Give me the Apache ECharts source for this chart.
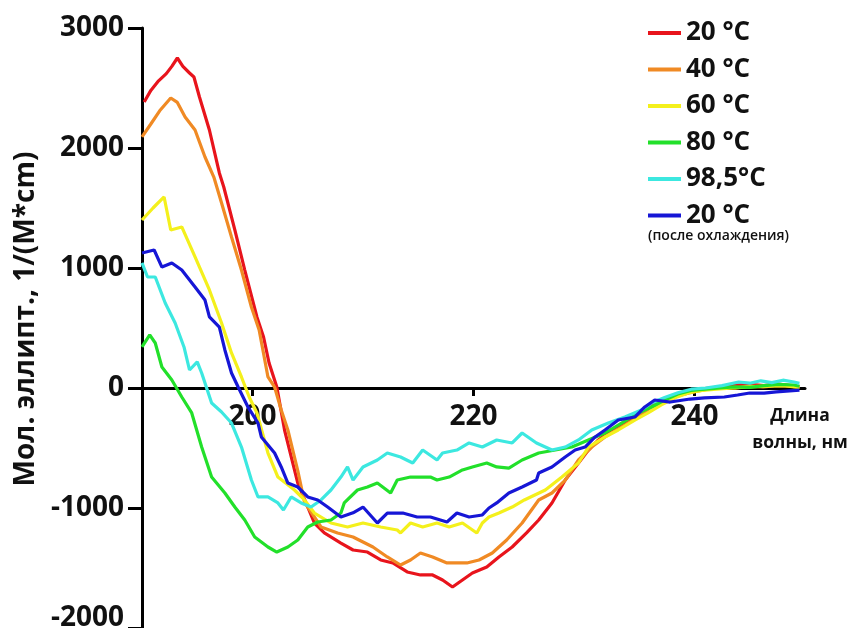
<!DOCTYPE html>
<html>
<head>
<meta charset="utf-8">
<script src="https://cdn.jsdelivr.net/npm/echarts@6/dist/echarts.min.js"></script>
<style>html,body{margin:0;padding:0;background:#fff}#c{width:850px;height:628px}</style>
</head>
<body>
<div id="c"></div>
<script>
var seriesNames = ['20 °C', '40 °C', '60 °C', '80 °C', '98,5°C', '20 °C '];
var seriesColors = ['#e8141c', '#f08a24', '#f4f01c', '#22e02a', '#3ce8e0', '#1616d6'];
var xTicks = [200, 220, 240];
var yTicks = [-2000, -1000, 0, 1000, 2000, 3000];

var red = [[190.2,2383],[190.8,2480],[191.5,2560],[192.2,2620],[192.7,2680],[193.2,2750],[193.7,2680],[194.3,2625],[194.7,2592],[195.2,2425],[196.1,2150],[197.0,1792],[197.4,1675],[198.4,1317],[199.3,983],[200.4,592],[201.0,425],[201.5,208],[202.2,8],[202.9,-350],[204.1,-792],[205.6,-1125],[206.5,-1208],[208.0,-1292],[209.1,-1350],[210.4,-1367],[211.6,-1433],[212.7,-1458],[214.0,-1533],[215.2,-1558],[216.3,-1558],[217.2,-1600],[218.1,-1658],[219.0,-1600],[219.9,-1542],[221.2,-1492],[222.3,-1408],[223.5,-1325],[224.8,-1208],[225.9,-1100],[227.1,-958],[228.3,-767],[229.5,-625],[230.4,-517],[231.3,-433],[232.5,-350],[234.0,-267],[235.5,-183],[236.4,-125],[237.8,-80],[239.0,-40],[240.3,-10],[241.5,0],[242.7,15],[243.9,25],[245.0,30],[246.3,20],[247.4,35],[248.3,25],[249.5,10]];

var orange = [[190.0,2092],[190.8,2200],[191.6,2310],[192.6,2417],[193.2,2380],[193.9,2258],[194.8,2150],[195.7,1925],[196.5,1758],[197.2,1542],[198.1,1258],[199.0,983],[199.9,675],[200.6,483],[201.4,92],[202.0,8],[202.6,-183],[203.2,-350],[204.1,-690],[204.7,-950],[206.2,-1158],[207.7,-1208],[209.1,-1242],[210.9,-1325],[212.2,-1408],[213.4,-1475],[214.3,-1433],[215.2,-1375],[216.3,-1408],[217.6,-1458],[219.4,-1458],[220.5,-1433],[221.7,-1375],[223.0,-1267],[224.4,-1125],[225.9,-933],[227.1,-875],[228.3,-767],[229.5,-600],[230.7,-492],[231.9,-408],[233.4,-325],[234.9,-242],[236.1,-158],[237.5,-100],[238.7,-60],[240.0,-30],[241.2,-10],[242.5,5],[243.7,0],[245.0,15],[246.2,10],[247.5,20],[248.7,15],[249.5,5]];

var yellow = [[190.0,1400],[191.0,1500],[192.0,1592],[192.6,1317],[193.6,1342],[194.8,1092],[196.1,817],[197.2,542],[198.1,292],[199.0,92],[199.7,-75],[200.4,-208],[201.4,-542],[202.3,-742],[203.8,-850],[204.7,-933],[205.6,-1042],[207.1,-1125],[208.6,-1158],[210.0,-1125],[211.6,-1158],[213.1,-1183],[213.4,-1208],[214.3,-1125],[215.4,-1158],[216.7,-1125],[217.8,-1158],[219.0,-1125],[220.3,-1208],[220.8,-1125],[221.4,-1075],[222.3,-1042],[223.5,-992],[224.6,-933],[226.5,-850],[228.0,-742],[229.5,-625],[230.4,-492],[231.9,-408],[233.1,-350],[234.6,-267],[235.8,-208],[237.0,-140],[238.3,-80],[239.5,-40],[240.7,-20],[242.0,-10],[243.5,0],[245.0,10],[246.5,15],[248.0,20],[249.5,5]];

var green = [[190.0,342],[190.7,442],[191.2,375],[191.8,175],[192.7,67],[193.6,-75],[194.5,-208],[195.4,-492],[196.3,-742],[197.5,-875],[198.4,-992],[199.3,-1100],[200.2,-1242],[201.4,-1325],[202.2,-1367],[203.2,-1325],[204.1,-1267],[205.0,-1158],[205.9,-1117],[207.1,-1100],[208.0,-1042],[208.3,-958],[209.5,-850],[210.4,-825],[211.3,-792],[212.5,-875],[213.1,-767],[214.3,-742],[216.1,-742],[216.7,-767],[217.8,-742],[219.0,-683],[219.9,-658],[221.2,-625],[222.1,-658],[223.2,-667],[224.4,-600],[225.9,-542],[227.4,-517],[228.9,-492],[230.4,-433],[231.9,-375],[233.4,-292],[234.9,-208],[236.1,-158],[237.3,-100],[238.5,-50],[239.7,-20],[241.0,-10],[242.3,0],[243.6,10],[245.0,5],[246.3,20],[247.6,30],[249.0,25],[249.5,15]];

var cyan = [[190.0,1042],[190.5,925],[191.2,925],[192.1,708],[193.0,542],[193.8,342],[194.3,150],[195.0,217],[195.4,125],[196.3,-125],[197.2,-200],[198.1,-292],[199.0,-492],[199.9,-767],[200.5,-908],[201.4,-908],[202.3,-958],[202.8,-1017],[203.5,-908],[204.4,-958],[205.3,-992],[206.2,-933],[207.1,-850],[208.0,-742],[208.6,-658],[209.1,-767],[210.0,-658],[211.3,-600],[212.2,-542],[213.4,-575],[214.5,-625],[215.4,-517],[216.7,-600],[217.2,-542],[218.5,-517],[219.6,-458],[220.8,-492],[222.1,-433],[223.5,-458],[224.4,-375],[225.7,-458],[227.1,-517],[228.3,-492],[229.5,-433],[230.7,-350],[232.2,-292],[233.7,-242],[235.2,-183],[236.1,-125],[237.3,-80],[238.5,-40],[239.7,-10],[241.0,0],[242.5,20],[244.0,50],[245.0,40],[246.0,60],[247.0,45],[248.0,65],[249.0,50],[249.5,40]];

var blue = [[190.0,1125],[191.1,1150],[191.8,1008],[192.7,1042],[193.6,983],[194.8,842],[195.7,733],[196.1,592],[197.0,508],[197.5,317],[198.1,125],[198.7,8],[199.6,-160],[200.5,-292],[200.8,-408],[202.0,-542],[202.6,-658],[203.2,-792],[204.1,-825],[205.0,-908],[205.9,-933],[206.8,-992],[208.0,-1075],[209.1,-1040],[210.0,-992],[211.3,-1125],[212.2,-1042],[213.6,-1042],[214.9,-1075],[216.1,-1075],[217.6,-1117],[218.5,-1042],[219.6,-1075],[220.8,-1058],[221.4,-1000],[222.1,-958],[223.2,-875],[224.4,-825],[225.7,-767],[225.9,-708],[227.1,-658],[228.3,-575],[229.2,-517],[230.1,-492],[231.0,-408],[231.9,-350],[233.1,-267],[234.6,-242],[235.5,-158],[236.4,-100],[237.8,-117],[239.6,-92],[240.9,-83],[242.7,-75],[243.9,-58],[245.0,-42],[246.3,-42],[247.4,-33],[249.5,-17]];

var seriesData = [red, orange, yellow, green, cyan, blue];

var FONT = 'Open Sans';
var chart = echarts.init(document.getElementById('c'), null, {renderer: 'canvas'});
var option = {
  animation: false,
  backgroundColor: '#fff',
  textStyle: {fontFamily: FONT},
  title: [
    {text: 'Длина\nволны, нм', left: 795, top: 398, textAlign: 'center',
     textStyle: {fontFamily: FONT, fontSize: 17.5, fontWeight: 'bold', color: '#111', lineHeight: 27}},
    {text: '(после охлаждения)', left: 643, top: 224,
     textStyle: {fontFamily: FONT, fontSize: 14, fontWeight: 600, color: '#111'}}
  ],
  legend: {
    orient: 'vertical', left: 643, top: 15,
    itemWidth: 33, itemHeight: 4, itemGap: 10.5,
    icon: 'rect',
    data: seriesNames,
    selectedMode: false,
    textStyle: {fontFamily: FONT, fontSize: 26, fontWeight: 'bold', color: '#111', lineHeight: 24}
  },
  grid: {left: 142, right: 45, top: 28, bottom: 0, containLabel: false, outerBoundsMode: 'none'},
  xAxis: {
    type: 'value', min: 190, max: 250, offset: -240,
    axisLine: {onZero: false, lineStyle: {color: '#000', width: 3}},
    axisTick: {show: true, length: 8, customValues: xTicks, lineStyle: {color: '#000', width: 3}},
    axisLabel: {customValues: xTicks, margin: 15, fontFamily: FONT, fontSize: 28, fontWeight: 'bold', color: '#111'},
    splitLine: {show: false}
  },
  yAxis: {
    type: 'value', min: -2000, max: 3000, interval: 1000,
    name: 'Мол. эллипт., 1/(M*cm)', nameLocation: 'middle', nameGap: 100,
    nameTextStyle: {fontFamily: FONT, fontSize: 28, fontWeight: 'bold', color: '#111', padding: [0, 0, 0, 18]},
    axisLine: {show: true, lineStyle: {color: '#000', width: 3}},
    axisTick: {show: true, length: 14, lineStyle: {color: '#000', width: 3}},
    axisLabel: {
      margin: 18, fontFamily: FONT, fontSize: 28, fontWeight: 'bold', color: '#111',
      formatter: function (v) { return v === -2000 ? '{low|' + v + '}' : String(v); },
      rich: {low: {fontFamily: FONT, fontSize: 28, fontWeight: 'bold', color: '#111', padding: [0, 0, 20, 0]}}
    },
    splitLine: {show: false}
  },
  series: seriesData.map(function (d, i) {
    return {
      name: seriesNames[i], type: 'line', data: d,
      showSymbol: false, symbol: 'none',
      color: seriesColors[i],
      lineStyle: {color: seriesColors[i], width: 3.2},
      z: 2 + i
    };
  })
};
chart.setOption(option);
</script>
</body>
</html>
